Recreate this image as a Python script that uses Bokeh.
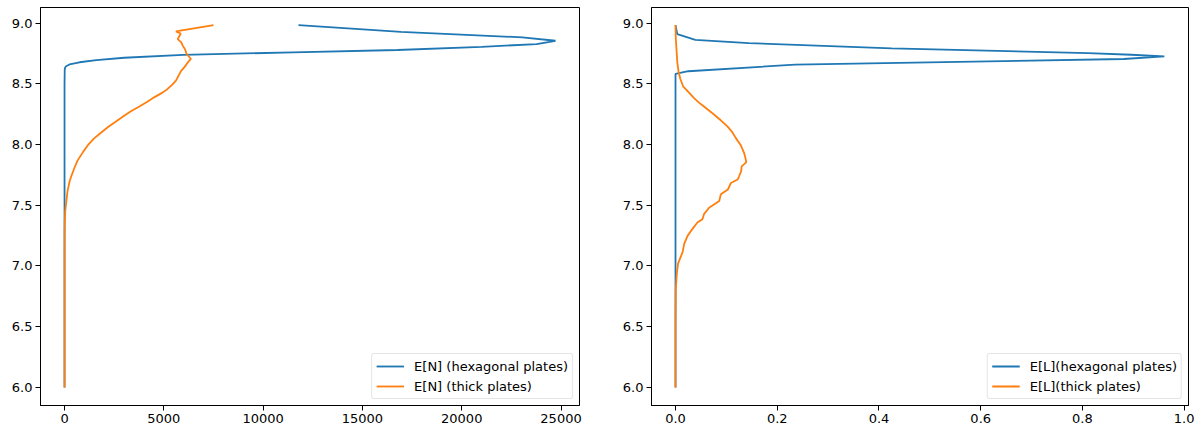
from bokeh.plotting import figure
from bokeh.layouts import row
from bokeh.models import Range1d, FixedTicker, Legend, LegendItem
from bokeh.embed import file_html
from bokeh.resources import INLINE

# ---- Left panel: E[N] ----
left_hex_y = [8.984, 8.929, 8.883, 8.855, 8.828, 8.805, 8.779, 8.76, 8.738, 8.715,
              8.695, 8.678, 8.66, 8.645, 8.637, 8.62, 8.5, 8.0, 7.5, 7.0, 6.5, 6.0]
left_hex_x = [11780, 16940, 23050, 24720, 23770, 21000, 16760, 11500, 5970, 3000,
              1600, 755, 250, 80, 36, 10, 0, 0, 0, 0, 0, 0]

left_thick_y = [8.984, 8.932, 8.915, 8.896, 8.869, 8.842, 8.815, 8.787, 8.746, 8.705,
                8.685, 8.664, 8.64, 8.609, 8.57, 8.527, 8.49, 8.454, 8.43, 8.391,
                8.35, 8.317, 8.27, 8.227, 8.18, 8.145, 8.1, 8.049, 8.0, 7.94,
                7.87, 7.803, 7.753, 7.7, 7.617, 7.53, 7.45, 7.35, 7.27, 7.0, 6.5, 6.0]
left_thick_x = [7500, 5610, 5850, 5790, 5700, 5880, 5950, 6060, 6150, 6365,
                6250, 6150, 6050, 5880, 5750, 5610, 5400, 5160, 4950, 4530,
                4150, 3810, 3300, 2910, 2500, 2190, 1850, 1474, 1200, 935,
                660, 485, 372, 260, 150, 90, 35, 10, 2, 0, 0, 0]

left_xticks = [0, 5000, 10000, 15000, 20000, 25000]
left_xlabels = ["0", "5000", "10000", "15000", "20000", "25000"]

# ---- Right panel: E[L] ----
right_hex_y = [8.984, 8.91, 8.863, 8.836, 8.792, 8.754, 8.74, 8.727, 8.705, 8.658,
               8.604, 8.582, 8.5, 8.0, 7.5, 7.0, 6.5, 6.0]
right_hex_x = [0.0, 0.0035, 0.039, 0.144, 0.425, 0.811, 0.896, 0.961, 0.881, 0.235,
               0.025, 0.0, 0.0, 0.0, 0.0, 0.0, 0.0, 0.0]

right_thick_y = [8.984, 8.88, 8.78, 8.68, 8.6, 8.54, 8.48, 8.43, 8.38, 8.35,
                 8.32, 8.26, 8.2, 8.15, 8.1, 8.051, 7.997, 7.929, 7.88, 7.853,
                 7.82, 7.78, 7.739, 7.712, 7.684, 7.63, 7.59, 7.535, 7.48, 7.427,
                 7.386, 7.358, 7.304, 7.25, 7.182, 7.114, 7.073, 7.019, 6.937, 6.8,
                 6.5, 6.0]
right_thick_x = [0.0, 0.0005, 0.002, 0.0035, 0.006, 0.0095, 0.015, 0.026, 0.037, 0.045,
                 0.054, 0.072, 0.089, 0.102, 0.112, 0.119, 0.128, 0.135, 0.138, 0.139,
                 0.130, 0.129, 0.125, 0.122, 0.109, 0.103, 0.089, 0.086, 0.066, 0.056,
                 0.053, 0.043, 0.033, 0.024, 0.017, 0.014, 0.010, 0.005, 0.0026, 0.0005,
                 0.0, 0.0]

right_xticks = [0.0, 0.2, 0.4, 0.6, 0.8, 1.0]
right_xlabels = ["0.0", "0.2", "0.4", "0.6", "0.8", "1.0"]

yticks = [6.0, 6.5, 7.0, 7.5, 8.0, 8.5, 9.0]
ylabels = ["6.0", "6.5", "7.0", "7.5", "8.0", "8.5", "9.0"]

legend_left = ["E[N] (hexagonal plates)", "E[N] (thick plates)"]
legend_right = ["E[L](hexagonal plates)", "E[L](thick plates)"]

BLUE = "#1f77b4"
ORANGE = "#ff7f0e"
FONT = "DejaVu Sans"


def make_panel(xr, frame_w, border_l, border_r, xticks, xlabels,
               hx, hy, tx, ty, labels):
    p = figure(output_backend="svg", toolbar_location=None,
               frame_width=frame_w, frame_height=398,
               min_border_left=border_l, min_border_right=border_r,
               min_border_top=7, min_border_bottom=25,
               x_range=Range1d(*xr), y_range=Range1d(5.851, 9.129))
    p.grid.visible = False
    p.outline_line_color = "black"
    p.outline_line_width = 1
    p.outline_line_alpha = 1
    for ax in (p.xaxis[0], p.yaxis[0]):
        ax.axis_line_color = "black"
        ax.major_tick_line_color = "black"
        ax.major_tick_out = 5
        ax.major_tick_in = 0
        ax.minor_tick_line_color = None
        ax.major_label_text_font = FONT
        ax.major_label_text_font_size = "13px"
        ax.major_label_text_color = "black"
        ax.major_label_standoff = 3
    p.xaxis.ticker = FixedTicker(ticks=xticks)
    p.xaxis.major_label_overrides = dict(zip(xticks, xlabels))
    p.yaxis.ticker = FixedTicker(ticks=yticks)
    p.yaxis.major_label_overrides = dict(zip(yticks, ylabels))

    r1 = p.line(hx, hy, line_color=BLUE, line_width=1.8)
    r2 = p.line(tx, ty, line_color=ORANGE, line_width=1.8)
    leg = Legend(items=[LegendItem(label=labels[0], renderers=[r1]),
                        LegendItem(label=labels[1], renderers=[r2])],
                 location="bottom_right")
    leg.label_text_font = FONT
    leg.label_text_font_size = "13px"
    leg.label_text_color = "black"
    leg.glyph_width = 28
    leg.glyph_height = 16
    leg.label_height = 16
    leg.label_standoff = 10
    leg.spacing = 4
    leg.padding = 4
    leg.margin = 6
    leg.border_line_color = "#cccccc"
    leg.border_line_width = 1
    leg.background_fill_alpha = 0.8
    if "border_radius" in Legend.properties():
        leg.border_radius = 3
    p.add_layout(leg, "center")
    return p


p1 = make_panel((-1210, 25930), 539, 40, 32, left_xticks, left_xlabels,
                left_hex_x, left_hex_y, left_thick_x, left_thick_y, legend_left)
p2 = make_panel((-0.0472, 1.0085), 537, 40, 14, right_xticks, right_xlabels,
                right_hex_x, right_hex_y, right_thick_x, right_thick_y, legend_right)

layout = row(p1, p2)
open("out.html", "w").write(file_html(layout, INLINE))
